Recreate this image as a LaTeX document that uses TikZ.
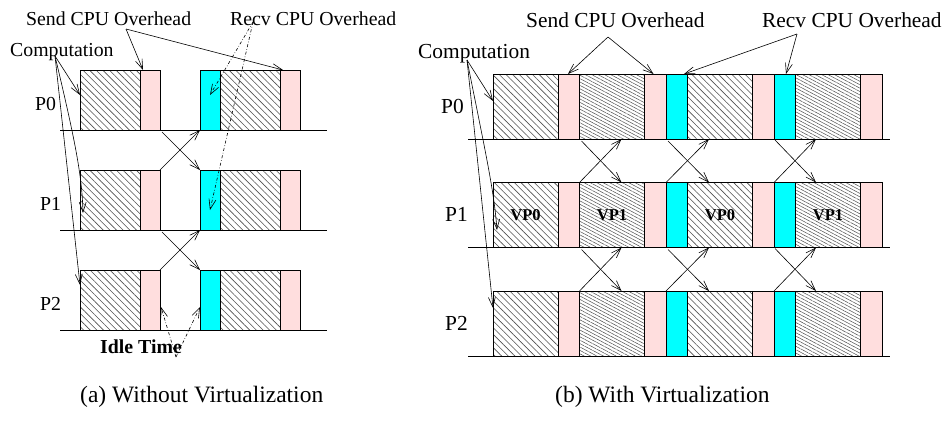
\documentclass[tikz,border=0pt]{standalone}
\usepackage{fontspec}
\setmainfont{Liberation Serif}
\usetikzlibrary{patterns.meta,arrows.meta,calc}
\definecolor{sendpink}{RGB}{255,222,222}
\definecolor{recvcyan}{RGB}{0,255,255}
\definecolor{hatchgray}{RGB}{80,80,80}
\newcommand\fontL{\fontsize{19.8}{22}\selectfont}
\newcommand\fontR{\fontsize{21.4}{24}\selectfont}
\newcommand\fontVP{\fontsize{16.5}{18}\selectfont\bfseries}
\newcommand\fontCap{\fontsize{23.5}{26}\selectfont}
\tikzset{
  slot/.style={draw=black, line width=0.8pt, inner sep=0pt, outer sep=0pt, anchor=north west},
  comp/.style={slot, pattern={Lines[angle=-45,distance=4.7pt,line width=0.6pt]}, pattern color=hatchgray},
  compdense/.style={slot, pattern={Lines[angle=-28,distance=3pt,line width=0.5pt]}, pattern color=hatchgray},
  sendov/.style={slot, fill=sendpink},
  recvov/.style={slot, fill=recvcyan},
  timeline/.style={line width=1pt},
  ptr/.style={line width=0.6pt, -{Straight Barb[length=10pt,width=7pt]}},
  dptr/.style={ptr, dash dot},
  lbl/.style={inner sep=0pt, anchor=base west},
}
\begin{document}
\begin{tikzpicture}[x=1pt,y=-1pt]
\fill[white] (0,0) rectangle (951,426);
\useasboundingbox (0,0) rectangle (951,426);

% ---------- (a) three processors, one process each ----------
\foreach \r/\t in {0/70,1/170,2/270} {
  \node[comp,   minimum width=60pt, minimum height=60pt] (a\r h1) at (80,\t) {};
  \node[sendov, minimum width=20pt, minimum height=60pt] (a\r s1) at (140,\t) {};
  \node[recvov, minimum width=20pt, minimum height=60pt] (a\r c1) at (200,\t) {};
  \node[comp,   minimum width=60pt, minimum height=60pt] (a\r h2) at (220,\t) {};
  \node[sendov, minimum width=20pt, minimum height=60pt] (a\r s2) at (280,\t) {};
  \coordinate (a\r L) at (60,\t+60);
  \coordinate (a\r R) at (327,\t+60);
  \draw[timeline] (a\r L) -- (a\r R);
}
\node[lbl, font=\fontL] (aP0) at (35,110) {P0};
\node[lbl, font=\fontL] (aP1) at (40,210) {P1};
\node[lbl, font=\fontL] (aP2) at (40,310) {P2};

% messages between neighbouring processors
\foreach \r/\n in {0/1,1/2} {
  \draw[ptr] ([shift={(2pt,-2pt)}]a\r s1.south east) -- (a\n c1.north west);
  \draw[ptr] (a\n s1.north east) -- (a\r c1.south west);
}

% labels with their pointers
\node[lbl, font=\fontL] (aSend) at (26,25) {Send CPU Overhead};
\node[lbl, font=\fontL] (aRecv) at (230,25) {Recv CPU Overhead};
\node[lbl, font=\fontL] (aComp) at (10,56) {Computation};
\node[lbl, font=\fontL\bfseries] (aIdle) at (100,353) {Idle Time};

\coordinate (aSendFrom) at (126,29);
\draw[ptr] (aSendFrom) -- ([xshift=3pt]a0s1.north west);
\draw[ptr] (aSendFrom) -- ([xshift=3pt]a0s2.north west);

\coordinate (aRecvFrom) at (253,22);
\draw[dptr] (aRecvFrom) -- ([yshift=5pt]a0c1.center);
\draw[dptr] (aRecvFrom) -- ([yshift=-10pt]a1c1.center);

\coordinate (aCompFrom) at (55,56);
\draw[ptr] (aCompFrom) -- ([yshift=-25pt]a0h1.north west);
\draw[ptr] (aCompFrom) .. controls (75,140) and (82,175) .. ([shift={(3pt,-43pt)}]a1h1.north west);
\draw[ptr] (aCompFrom) -- ([yshift=-15pt]a2h1.north west);

\coordinate (aIdleFrom) at (176,357);
\draw[dptr] (aIdleFrom) -- ([shift={(1pt,23pt)}]a2s1.south east);
\draw[dptr] (aIdleFrom) -- ([yshift=23pt]a2c1.south west);

% ---------- (b) two virtual processors per processor ----------
\foreach \r/\t in {0/74,1/182.5,2/291} {
  \node[comp,      minimum width=65pt,   minimum height=65pt] (b\r h1) at (493,\t) {};
  \node[sendov,    minimum width=21.5pt, minimum height=65pt] (b\r s1) at (558,\t) {};
  \node[compdense, minimum width=65pt,   minimum height=65pt] (b\r d1) at (579.5,\t) {};
  \node[sendov,    minimum width=21.5pt, minimum height=65pt] (b\r s2) at (644.5,\t) {};
  \node[recvov,    minimum width=21.5pt, minimum height=65pt] (b\r c1) at (666,\t) {};
  \node[comp,      minimum width=65pt,   minimum height=65pt] (b\r h2) at (687.5,\t) {};
  \node[sendov,    minimum width=21.5pt, minimum height=65pt] (b\r s3) at (752.5,\t) {};
  \node[recvov,    minimum width=21.5pt, minimum height=65pt] (b\r c2) at (774,\t) {};
  \node[compdense, minimum width=65pt,   minimum height=65pt] (b\r d2) at (795.5,\t) {};
  \node[sendov,    minimum width=21.5pt, minimum height=65pt] (b\r s4) at (860.5,\t) {};
  \coordinate (b\r L) at (468,\t+65);
  \coordinate (b\r R) at (890,\t+65);
  \draw[timeline] (b\r L) -- (b\r R);
}
\node[font=\fontVP, inner sep=0pt] (vpa) at (b1h1.center) {VP0};
\node[font=\fontVP, inner sep=0pt] (vpb) at (b1d1.center) {VP1};
\node[font=\fontVP, inner sep=0pt] (vpc) at (b1h2.center) {VP0};
\node[font=\fontVP, inner sep=0pt] (vpd) at (b1d2.center) {VP1};

\node[lbl, font=\fontR] (bP0) at (441,113) {P0};
\node[lbl, font=\fontR] (bP1) at (445,221) {P1};
\node[lbl, font=\fontR] (bP2) at (445,330) {P2};

% messages between neighbouring processors
\foreach \r/\n in {0/1,1/2} {
  \draw[ptr] ([shift={(2pt,-2pt)}]b\r s1.south east) -- ([xshift=42pt]b\n s1.north east);
  \draw[ptr] (b\n s1.north east) -- ([xshift=42pt]b\r s1.south east);
  \draw[ptr] ([shift={(2pt,-2pt)}]b\r s2.south east) -- ([xshift=43pt]b\n s2.north east);
  \draw[ptr] (b\n s2.north east) -- ([xshift=43pt]b\r s2.south east);
  \draw[ptr] ([shift={(1pt,-1pt)}]b\r s3.south east) -- ([xshift=42pt]b\n s3.north east);
  \draw[ptr] (b\n s3.north east) -- ([xshift=42pt]b\r s3.south east);
}

\node[lbl, font=\fontR] (bSend) at (526,27) {Send CPU Overhead};
\node[lbl, font=\fontR] (bRecv) at (762,27) {Recv CPU Overhead};
\node[lbl, font=\fontR] (bComp) at (418,58) {Computation};

\coordinate (bSendFrom) at (608,37);
\draw[ptr] (bSendFrom) -- ([xshift=10pt]b0s1.north west);
\draw[ptr] (bSendFrom) -- ([xshift=9pt]b0s2.north west);

\coordinate (bRecvFrom) at (797,34);
\draw[ptr] (bRecvFrom) -- ([xshift=18pt]b0c1.north west);
\draw[ptr] (bRecvFrom) -- ([xshift=12pt]b0c2.north west);

\coordinate (bCompFrom) at (467,60);
\draw[ptr] (bCompFrom) -- ([yshift=-27pt]b0h1.north west);
\draw[ptr] (bCompFrom) .. controls (485,150) and (494,190) .. ([shift={(4pt,-47.5pt)}]b1h1.north west);
\draw[ptr] (bCompFrom) -- ([yshift=-17pt]b2h1.north west);

% ---------- captions ----------
\node[lbl, font=\fontCap] (capa) at (80,402) {(a) Without Virtualization};
\node[lbl, font=\fontCap] (capb) at (555,402) {(b) With Virtualization};
\end{tikzpicture}
\end{document}
